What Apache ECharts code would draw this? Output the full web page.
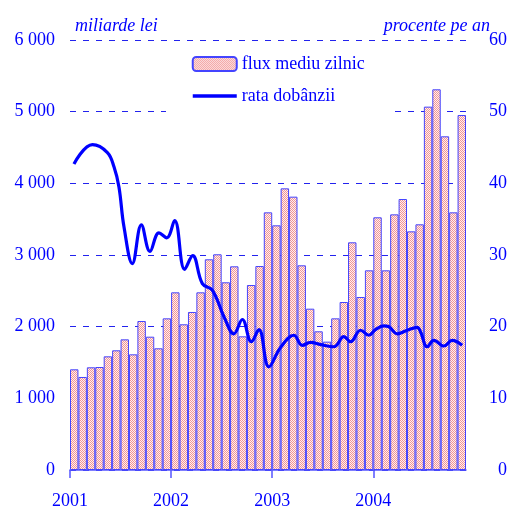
<!DOCTYPE html>
<html>
<head>
<meta charset="utf-8">
<script src="https://cdn.jsdelivr.net/npm/echarts@6/dist/echarts.min.js"></script>
<style>
  html, body { margin: 0; padding: 0; background: #fff; }
  #chart { width: 512px; height: 511px; }
</style>
</head>
<body>
<div id="chart"></div>
<script>
// luni ian 2001 - nov 2004
const months = [];
for (let y = 2001; y <= 2004; y++) {
  for (let m = 1; m <= 12; m++) {
    if (months.length < 47) months.push(y + '-' + m)
  }
}
// flux mediu zilnic (miliarde lei)
const fluxValues = [
  1405, 1298, 1433, 1437, 1586, 1670, 1823, 1614, 2079, 1860, 1698, 2116,
  2479, 2033, 2205, 2479, 2940, 3010, 2619, 2842, 1865, 2581, 2846, 3595,
  3414, 3930, 3814, 2856, 2251, 1935, 1791, 2116, 2344, 3177, 2414, 2786,
  3526, 2786, 3567, 3781, 3330, 3428, 5070, 5312, 4656, 3595, 4953
]
// rata dobanzii (procente pe an) - pozitie in luni de la ian 2001
const rateMonth = [
  0.47, 2.66, 4.44, 5.22, 5.81, 6.41, 7.40, 8.47, 9.49, 10.56, 11.47, 12.42,
  13.61, 14.56, 15.71, 16.89, 18.27, 19.45, 20.45, 21.52, 22.42, 23.61, 24.99,
  26.57, 27.57, 28.55, 29.74, 31.32, 32.50, 33.30, 34.48, 35.47, 36.26, 37.25,
  37.84, 38.84, 40.02, 41.21, 41.60, 42.40, 43.18, 44.37, 45.36, 46.55
]
const rateValues = [
  42.7, 45.4, 44.3, 42.3, 39.5, 33.9, 28.8, 34.2, 30.5, 33.1, 32.4, 34.8,
  28.0, 29.9, 26.0, 25.1, 21.4, 19.0, 21.0, 17.9, 19.6, 14.4, 17.1,
  18.8, 17.4, 17.8, 17.5, 17.2, 18.6, 17.9, 19.5, 18.8, 19.6, 20.1,
  20.0, 19.0, 19.5, 19.9, 19.3, 17.2, 18.1, 17.3, 18.1, 17.4
]
const yearTicks = [0, 12, 24, 36]
const yearLabels = ['2001', '2002', '2003', '2004']

const blue = '#0000ff'
const font = 'Liberation Serif'

// hasura roz cu puncte
const pat = document.createElement('canvas')
pat.width = 2
pat.height = 2
const pctx = pat.getContext('2d')
pctx.fillStyle = '#fff0f0'
pctx.fillRect(0, 0, 2, 2)
pctx.fillStyle = '#f19494'
pctx.fillRect(0, 0, 1, 1)
pctx.fillRect(1, 1, 1, 1)

const myChart = echarts.init(document.getElementById('chart'))
const option = {
  animation: false,
  textStyle: { fontFamily: font, color: blue },
  grid: { left: 70, right: 46, top: 40, bottom: 41 },
  legend: {
    orient: 'vertical',
    left: 166,
    top: 46,
    padding: [9, 24, 12, 25],
    backgroundColor: '#fff',
    itemWidth: 44,
    itemHeight: 14,
    itemGap: 14,
    textStyle: { fontFamily: font, fontSize: 18, color: blue },
    data: [
      'flux mediu zilnic',
      { name: 'rata dobânzii', itemStyle: { opacity: 0 }, lineStyle: { width: 3.5, color: blue } }
    ]
  },
  graphic: [
    { type: 'text', left: 75, top: 17,
      style: { text: 'miliarde lei', fontFamily: font, fontStyle: 'italic', fontSize: 18, fill: blue } },
    { type: 'text', right: 22, top: 17,
      style: { text: 'procente pe an', fontFamily: font, fontStyle: 'italic', fontSize: 18, fill: blue } }
  ],
  xAxis: [
    {
      type: 'value',
      min: 0,
      max: 47,
      interval: 12,
      axisLine: { show: true, lineStyle: { color: '#5555ff', width: 1.5 } },
      axisTick: { show: true, customValues: yearTicks, length: 8, inside: false,
        lineStyle: { color: '#5555ff', width: 1.5 } },
      axisLabel: { customValues: yearTicks, margin: 22, fontSize: 18, fontFamily: font, color: blue,
        formatter: v => yearLabels[yearTicks.indexOf(Math.round(v))] || '' },
      splitLine: { show: false }
    },
    {
      type: 'category',
      data: months,
      show: false,
      boundaryGap: true
    }
  ],
  yAxis: [
    {
      type: 'value',
      min: 0,
      max: 6000,
      interval: 1000,
      axisLine: { show: false },
      axisTick: { show: false },
      axisLabel: { margin: 15, fontSize: 18, fontFamily: font, color: blue,
        formatter: v => v >= 1000 ? Math.floor(v / 1000) + ' ' + String(v % 1000).padStart(3, '0') : String(v) },
      splitLine: { show: true, lineStyle: { color: '#2222ee', type: [6, 7], width: 1 } }
    },
    {
      type: 'value',
      position: 'right',
      min: 0,
      max: 60,
      interval: 10,
      axisLine: { show: false },
      axisTick: { show: false },
      axisLabel: { margin: 41, align: 'right', fontSize: 18, fontFamily: font, color: blue },
      splitLine: { show: false }
    }
  ],
  series: [
    {
      name: 'flux mediu zilnic',
      type: 'bar',
      xAxisIndex: 1,
      yAxisIndex: 0,
      barCategoryGap: '0%',
      itemStyle: {
        color: { image: pat, repeat: 'repeat' },
        borderColor: '#4444ff',
        borderWidth: 1
      },
      data: fluxValues
    },
    {
      name: 'rata dobânzii',
      type: 'line',
      xAxisIndex: 0,
      yAxisIndex: 1,
      smooth: 0.4,
      symbol: 'none',
      lineStyle: { color: blue, width: 3.2 },
      itemStyle: { color: blue },
      z: 5,
      data: rateMonth.map((m, i) => [m, rateValues[i]])
    }
  ]
}
myChart.setOption(option)
</script>
</body>
</html>
